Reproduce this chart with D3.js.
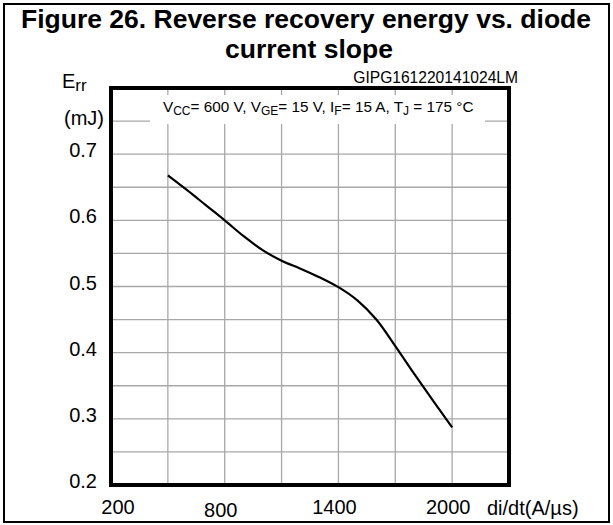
<!DOCTYPE html>
<html><head><meta charset="utf-8">
<script src="https://cdn.jsdelivr.net/npm/d3@7"></script>
<style>body{margin:0;background:#fff}svg{display:block;font-family:"Liberation Sans",Arial,sans-serif}</style>
</head><body><svg id="c" width="613" height="525"></svg>
<script>
const diDt = [500, 600, 700, 800, 900, 1000, 1100, 1200, 1300, 1400, 1500, 1600, 1700, 1800, 1900, 2000];
const err  = [0.668, 0.646, 0.623, 0.600, 0.576, 0.555, 0.539, 0.527, 0.514, 0.499, 0.479, 0.450, 0.410, 0.368, 0.327, 0.287];
const xTickLabels = [200, 800, 1400, 2000];
const yTickLabels = [0.2, 0.3, 0.4, 0.5, 0.6, 0.7];
const xGrid = [200, 500, 800, 1100, 1400, 1700, 2000, 2300];
const yGrid = [0.2,0.25,0.3,0.35,0.4,0.45,0.5,0.55,0.6,0.65,0.7,0.75,0.8];

const svg = d3.select("#c");
const L=111, R=509, T=88, B=485;
const x = d3.scaleLinear().domain([200,2300]).range([L,R]);
const y = d3.scaleLinear().domain([0.2,0.8]).range([B,T]);

// outer frame
svg.append("rect").attr("x",4).attr("y",4).attr("width",605).attr("height",518)
  .attr("fill","none").attr("stroke","#000").attr("stroke-width",2);

// title
svg.append("text").attr("x",306).attr("y",28).attr("text-anchor","middle")
  .attr("font-weight","bold").attr("font-size",26.5).text("Figure 26. Reverse recovery energy vs. diode");
svg.append("text").attr("x",309).attr("y",58).attr("text-anchor","middle")
  .attr("font-weight","bold").attr("font-size",26.5).text("current slope");
svg.append("text").attr("x",518).attr("y",83).attr("text-anchor","end")
  .attr("font-size",15.6).text("GIPG161220141024LM");

// grid
const g = svg.append("g");
g.selectAll("line.v").data(xGrid).join("line")
  .attr("x1",d=>x(d)).attr("x2",d=>x(d)).attr("y1",T).attr("y2",B)
  .attr("stroke","#a8a8a8").attr("stroke-width",1.3);
g.selectAll("line.h").data(yGrid).join("line")
  .attr("y1",d=>y(d)).attr("y2",d=>y(d)).attr("x1",L).attr("x2",R)
  .attr("stroke","#a8a8a8").attr("stroke-width",1.3);

// annotation box
svg.append("rect").attr("x",150).attr("y",95).attr("width",335).attr("height",29).attr("fill","#fff");
const ann = svg.append("text").attr("x",163).attr("y",112).attr("font-size",15.3);
const parts = [["V",0],["CC",1],["= 600 V, V",0],["GE",1],["= 15 V, I",0],["F",1],["= 15 A, T",0],["J",1],[" = 175 °C",0]];
let prevSub=false;
parts.forEach(([t,s])=>{
  const ts = ann.append("tspan").text(t);
  if(s){ts.attr("font-size",12).attr("dy",3);prevSub=true;}
  else if(prevSub){ts.attr("dy",-3);prevSub=false;}
});

// curve
svg.append("path").datum(diDt.map((d,i)=>[d,err[i]]))
  .attr("fill","none").attr("stroke","#000").attr("stroke-width",2.2)
  .attr("d", d3.line().x(d=>x(d[0])).y(d=>y(d[1])).curve(d3.curveCatmullRom.alpha(0.5)));

// plot box
svg.append("rect").attr("x",L).attr("y",T).attr("width",R-L).attr("height",B-T)
  .attr("fill","none").attr("stroke","#000").attr("stroke-width",4);

// y tick labels
svg.selectAll("text.yl").data(yTickLabels).join("text")
  .attr("x",97).attr("y",d=>y(d)+3).attr("text-anchor","end").attr("font-size",20)
  .text(d=>d3.format(".1f")(d));
// x tick labels
svg.selectAll("text.xl").data(xTickLabels).join("text")
  .attr("x",(d,i)=> i===0 ? x(d)+7 : x(d)-4).attr("y",(d,i)=> i===1 ? 517 : 514)
  .attr("text-anchor","middle").attr("font-size",20).text(d=>d);
svg.append("text").attr("x",487).attr("y",515).attr("font-size",20).text("di/dt(A/µs)");

// y axis title
const et = svg.append("text").attr("x",62).attr("y",88).attr("font-size",20);
et.append("tspan").text("E");
et.append("tspan").attr("font-size",17).attr("dy",3).text("rr");
svg.append("text").attr("x",64).attr("y",125).attr("font-size",20).text("(mJ)");
</script></body></html>
